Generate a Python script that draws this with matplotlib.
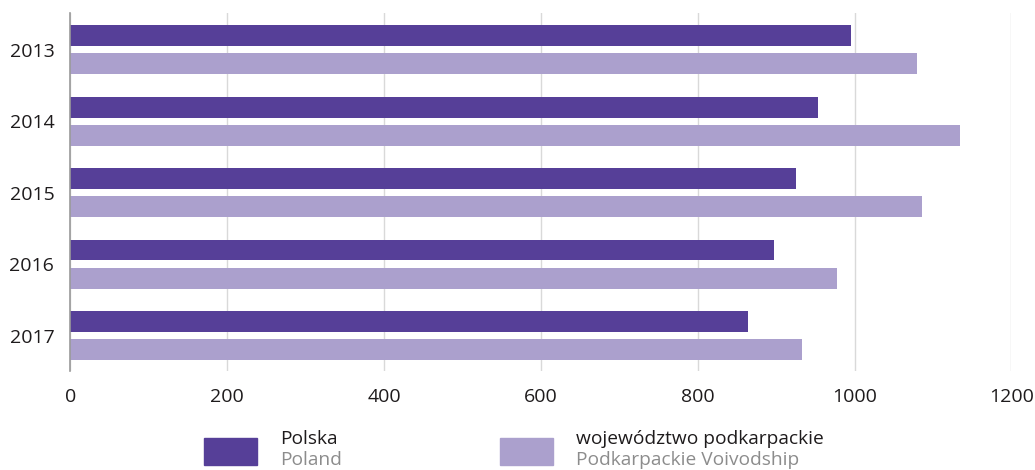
import numpy as np
import matplotlib
matplotlib.use("Agg")
from matplotlib import pyplot as plt
from matplotlib.patches import Rectangle
from matplotlib.transforms import ScaledTranslation

plt.rcParams['font.family'] = ['Open Sans', 'DejaVu Sans']

years = ['2013', '2014', '2015', '2016', '2017']
polska = [995, 953, 925, 897, 864]
podkarpackie = [1080, 1134, 1086, 978, 933]
xticks = [0, 200, 400, 600, 800, 1000, 1200]

dark = '#563f98'
light = '#aba0cd'
txt = '#1e1b1c'

fig = plt.figure(figsize=(10.35, 4.7), dpi=100)
ax = fig.add_axes([0.0679, 0.2113, 0.9093, 0.7604])

y = np.arange(len(years))
h = 0.29
ax.barh(y - 0.197, polska, height=h, color=dark, zorder=3)
ax.barh(y + 0.197, podkarpackie, height=h, color=light, zorder=3)

ax.set_xlim(0, 1200)
ax.set_ylim(4.49, -0.51)
ax.set_xticks(xticks)
ax.set_xticklabels([str(v) for v in xticks])
ax.set_yticks(y)
ax.set_yticklabels(years)

# year labels sit slightly below group centre in the original
off = ScaledTranslation(0, -3 / 72, fig.dpi_scale_trans)
for lab in ax.get_yticklabels():
    lab.set_transform(lab.get_transform() + off)

ax.tick_params(axis='both', length=0, labelsize=14, colors=txt)
ax.tick_params(axis='x', pad=12.5)
ax.tick_params(axis='y', pad=11.5)
ax.grid(axis='x', color='#d9d9d9', linewidth=1, zorder=0)
for s in ['top', 'right', 'bottom']:
    ax.spines[s].set_visible(False)
ax.spines['left'].set_color('#9a9a9a')
ax.spines['left'].set_linewidth(1.2)
ax.spines['left'].set_zorder(4)

# legend drawn by hand: two-line labels (Polish / English)
fig.add_artist(Rectangle((0.1971, 0.0106), 0.0512, 0.0574,
                         transform=fig.transFigure, color=dark))
fig.add_artist(Rectangle((0.4831, 0.0106), 0.0512, 0.0574,
                         transform=fig.transFigure, color=light))
fs = 13.8
fig.text(0.2705, 0.0553, 'Polska', fontsize=fs, color=txt, va='baseline')
fig.text(0.2705, 0.0117, 'Poland', fontsize=fs, color='#8c8c8c', va='baseline')
fig.text(0.5565, 0.0553, 'województwo podkarpackie', fontsize=fs, color=txt, va='baseline')
fig.text(0.5565, 0.0117, 'Podkarpackie Voivodship', fontsize=fs, color='#8c8c8c', va='baseline')

fig.savefig('out.png', dpi=100)
